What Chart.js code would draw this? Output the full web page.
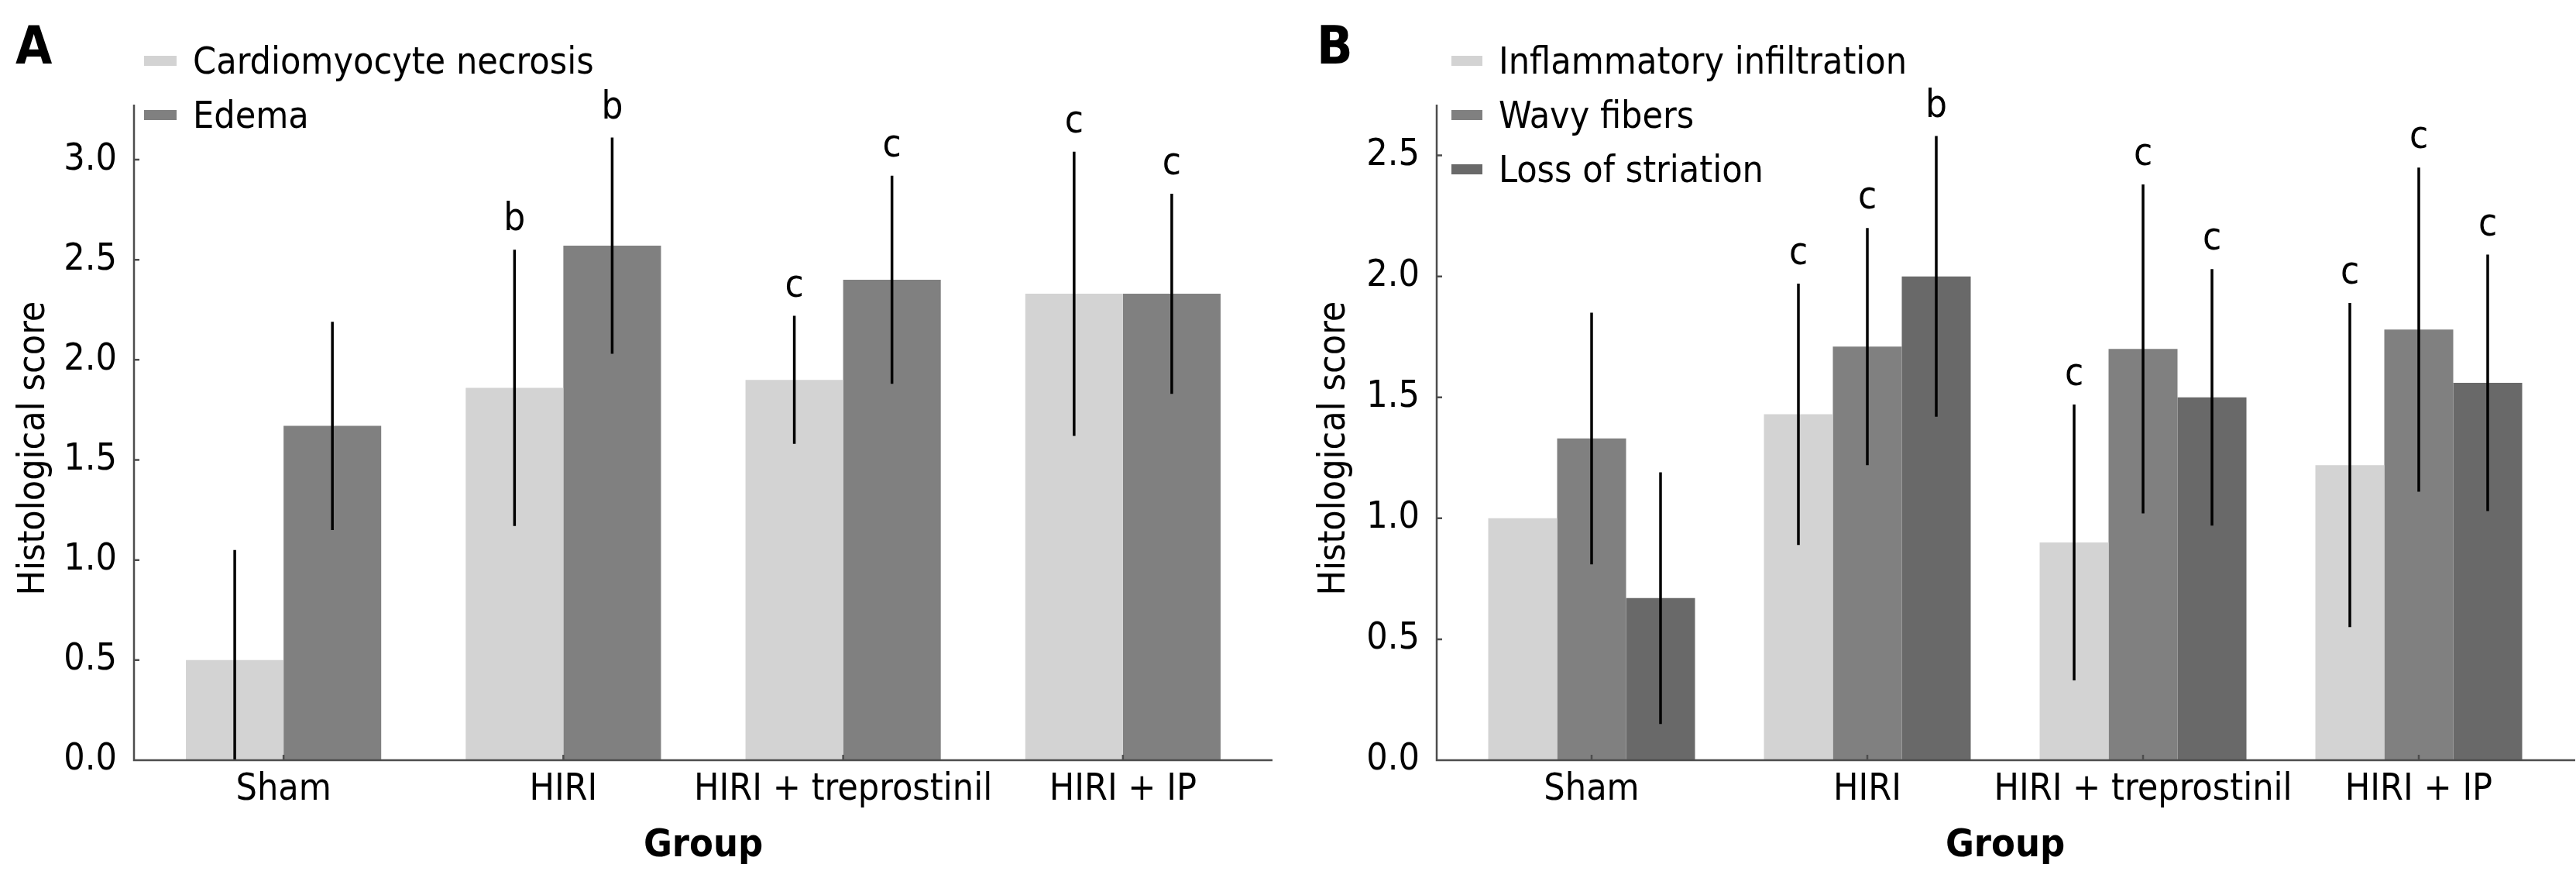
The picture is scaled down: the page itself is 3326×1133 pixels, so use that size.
<!DOCTYPE html>
<html>
<head>
<meta charset="utf-8">
<script src="https://cdn.jsdelivr.net/npm/chart.js@4.4.1/dist/chart.umd.min.js"></script>
<style>
    html, body { margin: 0; padding: 0; background: #fff; }
    #wrap { position: relative; width: 3326px; height: 1133px; }
    canvas { position: absolute; top: 0; }
    #chartA { left: 0; }
    #chartB { left: 1663px; }
</style>
</head>
<body>
<div id="wrap">
    <canvas id="chartA" width="1663" height="1133"></canvas>
    <canvas id="chartB" width="1663" height="1133"></canvas>
</div>
<script>
    // categories
    var groups = ['Sham', 'HIRI', 'HIRI + treprostinil', 'HIRI + IP'];
    var yTicksA = [0, 0.5, 1, 1.5, 2, 2.5, 3];
    var yTicksB = [0, 0.5, 1, 1.5, 2, 2.5];

    // panel A
    var necrosis = [0.50, 1.86, 1.90, 2.33];
    var necrosisErr = [0.55, 0.69, 0.32, 0.71];
    var necrosisSig = ['', 'b', 'c', 'c'];
    var edema = [1.67, 2.57, 2.40, 2.33];
    var edemaErr = [0.52, 0.54, 0.52, 0.50];
    var edemaSig = ['', 'b', 'c', 'c'];

    // panel B
    var infiltration = [1.00, 1.43, 0.90, 1.22];
    var infiltrationErr = [0, 0.54, 0.57, 0.67];
    var infiltrationSig = ['', 'c', 'c', 'c'];
    var wavy = [1.33, 1.71, 1.70, 1.78];
    var wavyErr = [0.52, 0.49, 0.68, 0.67];
    var wavySig = ['', 'c', 'c', 'c'];
    var striation = [0.67, 2.00, 1.50, 1.56];
    var striationErr = [0.52, 0.58, 0.53, 0.53];
    var striationSig = ['', 'b', 'c', 'c'];

    var FONT = "'DejaVu Sans Condensed', 'DejaVu Sans', sans-serif";
    var LIGHT = '#d3d3d3', MID = '#808080', DARK = '#696969';

    // error bars, letters, axis lines, legend and panel letter
    var panelDecor = {
        id: 'panelDecor',
        afterDatasetsDraw: function (chart, args, opts) {
            var ctx = chart.ctx;
            var xs = chart.scales.x, ys = chart.scales.y;
            var base = ys.getPixelForValue(0);
            var top = chart.chartArea.top;
            ctx.save();

            chart.data.datasets.forEach(function (ds, i) {
                chart.getDatasetMeta(i).data.forEach(function (bar, j) {
                    var v = ds.data[j], e = ds.errors[j];
                    var hi = ys.getPixelForValue(v + e);
                    if (e > 0) {
                        ctx.strokeStyle = '#000';
                        ctx.lineWidth = 3.5;
                        ctx.beginPath();
                        ctx.moveTo(bar.x, ys.getPixelForValue(Math.max(0, v - e)));
                        ctx.lineTo(bar.x, hi);
                        ctx.stroke();
                    }
                    if (ds.marks[j]) {
                        ctx.fillStyle = '#000';
                        ctx.font = '49px ' + FONT;
                        ctx.textAlign = 'center';
                        ctx.textBaseline = 'alphabetic';
                        ctx.fillText(ds.marks[j], bar.x, hi - 25);
                    }
                });
            });

            // axis lines with inward ticks
            ctx.strokeStyle = '#4d4d4d';
            ctx.lineWidth = 2.5;
            ctx.beginPath();
            ctx.moveTo(opts.axisLeft, top);
            ctx.lineTo(opts.axisLeft, base);
            ctx.lineTo(opts.axisRight, base);
            ys.ticks.forEach(function (t) {
                var py = ys.getPixelForValue(t.value);
                ctx.moveTo(opts.axisLeft, py);
                ctx.lineTo(opts.axisLeft + 7, py);
            });
            groups.forEach(function (g, k) {
                var px = xs.getPixelForValue(k);
                ctx.moveTo(px, base);
                ctx.lineTo(px, base - 7);
            });
            ctx.stroke();

            // legend
            ctx.font = '48px ' + FONT;
            ctx.textAlign = 'left';
            ctx.textBaseline = 'middle';
            chart.data.datasets.forEach(function (ds, i) {
                var cy = 78.5 + i * 70;
                ctx.fillStyle = ds.backgroundColor;
                ctx.fillRect(opts.swatchX, cy - 6.5, opts.swatchW, 13);
                ctx.fillStyle = '#000';
                ctx.fillText(ds.label, opts.textX, cy + 4);
            });

            // panel letter
            ctx.font = 'bold 68px ' + FONT;
            ctx.textBaseline = 'alphabetic';
            ctx.fillText(opts.letter, opts.letterX, 82);
            ctx.restore();
        }
    };

    var makePanel = function (canvasId, datasets, p) {
        return new Chart(document.getElementById(canvasId), {
            type: 'bar',
            data: { labels: groups, datasets: datasets },
            plugins: [panelDecor],
            options: {
                responsive: false,
                devicePixelRatio: 1,
                animation: false,
                layout: { padding: { left: 0, right: 1663 - p.areaRight, top: 135, bottom: 0 } },
                datasets: { bar: { categoryPercentage: p.catPct, barPercentage: 1, borderWidth: 0 } },
                plugins: {
                    legend: { display: false },
                    tooltip: { enabled: false },
                    panelDecor: p
                },
                scales: {
                    x: {
                        grid: { display: false, drawTicks: false },
                        border: { display: false },
                        ticks: {
                            color: '#000', padding: 10,
                            maxRotation: 0, minRotation: 0, autoSkip: false,
                            font: { family: FONT, size: 48 }
                        },
                        title: {
                            display: true, text: 'Group', color: '#000',
                            padding: { top: 0, bottom: 11 },
                            font: { family: FONT, size: 50, weight: 'bold' }
                        },
                        afterFit: function (s) { s.height = 1133 - 981; }
                    },
                    y: {
                        min: 0,
                        max: p.yMax,
                        grid: { display: false, drawTicks: false },
                        border: { display: false },
                        afterBuildTicks: function (s) {
                            s.ticks = p.ticks.map(function (v) { return { value: v }; });
                        },
                        ticks: {
                            color: '#000',
                            padding: p.tickPad,
                            font: { family: FONT, size: 48 },
                            callback: function (v) { return Number(v).toFixed(1); }
                        },
                        title: {
                            display: true, text: 'Histological score   ', color: '#000',
                            padding: { top: p.titlePad, bottom: 0 },
                            font: { family: FONT, size: 48 }
                        },
                        afterFit: function (s) { s.width = p.areaLeft; }
                    }
                }
            }
        });
    };

    makePanel('chartA', [
        { label: 'Cardiomyocyte necrosis', data: necrosis, errors: necrosisErr, marks: necrosisSig, backgroundColor: LIGHT },
        { label: 'Edema', data: edema, errors: edemaErr, marks: edemaSig, backgroundColor: MID }
    ], {
        areaLeft: 185.5, areaRight: 1630.5, axisLeft: 173, axisRight: 1643,
        yMax: 3.275, ticks: yTicksA, tickPad: 34.5, titlePad: 16, catPct: 0.698,
        swatchX: 186, swatchW: 42, textX: 249, letter: 'A', letterX: 20
    });

    makePanel('chartB', [
        { label: 'Inflammatory infiltration', data: infiltration, errors: infiltrationErr, marks: infiltrationSig, backgroundColor: LIGHT },
        { label: 'Wavy fibers', data: wavy, errors: wavyErr, marks: wavySig, backgroundColor: MID },
        { label: 'Loss of striation', data: striation, errors: striationErr, marks: striationSig, backgroundColor: DARK }
    ], {
        areaLeft: 214, areaRight: 1638, axisLeft: 192, axisRight: 1662,
        yMax: 2.71, ticks: yTicksB, tickPad: 44, titlePad: 32, catPct: 0.75,
        swatchX: 211, swatchW: 40, textX: 272, letter: 'B', letterX: 37
    });
</script>
</body>
</html>
